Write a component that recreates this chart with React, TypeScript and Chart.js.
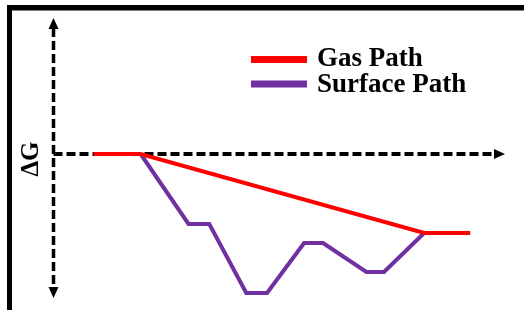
import React, { useEffect, useRef } from "react";
import { Chart, registerables } from "chart.js";

Chart.register(...registerables);

// Reaction coordinate (arbitrary units) and ΔG (arbitrary units, 0 = reference level)
const seriesLabels = ["Gas Path", "Surface Path"];
const seriesColors = ["#FF0000", "#7030A0"];
const gasX = [8.9, 19.3, 82.1, 92.3];
const gasY = [0, 0, -7.9, -7.9];
const surfaceX = [19.3, 29.9, 34.5, 42.7, 47.3, 55.5, 59.7, 69.3, 73.2, 82.1];
const surfaceY = [0, -7.0, -7.0, -13.9, -13.9, -8.9, -8.9, -11.8, -11.8, -7.9];
const yAxisLabel = "ΔG";

const FONT = "'Liberation Serif', 'Times New Roman', serif";

const decorPlugin = {
  id: "decor",
  beforeDatasetsDraw(chart: any) {
    const ctx = chart.ctx;
    const xs = chart.scales.x;
    const ys = chart.scales.y;
    const ax = xs.getPixelForValue(0);
    const ay = ys.getPixelForValue(0);
    const top = ys.getPixelForValue(ys.max);
    const bottom = ys.getPixelForValue(ys.min);
    const right = xs.getPixelForValue(xs.max);
    ctx.save();
    ctx.strokeStyle = "#000";
    ctx.fillStyle = "#000";
    ctx.lineWidth = 3.5;
    ctx.setLineDash([9, 4]);
    // vertical axis
    ctx.beginPath();
    ctx.moveTo(ax, top + 10);
    ctx.lineTo(ax, bottom - 10);
    ctx.stroke();
    // horizontal axis
    ctx.lineWidth = 4;
    ctx.beginPath();
    ctx.moveTo(ax, ay);
    ctx.lineTo(right - 10, ay);
    ctx.stroke();
    ctx.setLineDash([]);
    // arrowheads
    ctx.beginPath();
    ctx.moveTo(ax, top);
    ctx.lineTo(ax - 5, top + 11);
    ctx.lineTo(ax + 5, top + 11);
    ctx.closePath();
    ctx.fill();
    ctx.beginPath();
    ctx.moveTo(ax, bottom);
    ctx.lineTo(ax - 5, bottom - 11);
    ctx.lineTo(ax + 5, bottom - 11);
    ctx.closePath();
    ctx.fill();
    ctx.beginPath();
    ctx.moveTo(right, ay);
    ctx.lineTo(right - 11, ay - 5);
    ctx.lineTo(right - 11, ay + 5);
    ctx.closePath();
    ctx.fill();
    // axis label
    ctx.save();
    ctx.translate(31.5, ay + 5);
    ctx.rotate(-Math.PI / 2);
    ctx.font = `bold 25px ${FONT}`;
    ctx.textAlign = "center";
    ctx.textBaseline = "middle";
    ctx.fillText(yAxisLabel, 0, 0);
    ctx.restore();
    ctx.restore();
  },
  afterDraw(chart: any) {
    const ctx = chart.ctx;
    ctx.save();
    // frame (top and left edges)
    ctx.fillStyle = "#000";
    ctx.fillRect(7, 5, chart.width - 7, 5.5);
    ctx.fillRect(7, 5, 5, chart.height - 5);
    // legend
    const rows = [59.5, 84];
    const baselines = [66, 92];
    chart.data.datasets.forEach((ds: any, i: number) => {
      ctx.strokeStyle = ds.borderColor;
      ctx.lineWidth = 7;
      ctx.beginPath();
      ctx.moveTo(251, rows[i]);
      ctx.lineTo(307, rows[i]);
      ctx.stroke();
      ctx.fillStyle = "#000";
      ctx.font = `bold 27px ${FONT}`;
      ctx.textAlign = "left";
      ctx.textBaseline = "alphabetic";
      ctx.fillText(ds.label, 317, baselines[i]);
    });
    ctx.restore();
  },
};

export default function App() {
  const ref = useRef<HTMLCanvasElement | null>(null);
  useEffect(() => {
    if (!ref.current) return;
    const chart = new Chart(ref.current, {
      type: "line",
      data: {
        datasets: [
          {
            label: seriesLabels[0],
            data: gasX.map((x, i) => ({ x, y: gasY[i] })),
            borderColor: seriesColors[0],
            borderWidth: 4,
            pointRadius: 0,
            tension: 0,
            fill: false,
          },
          {
            label: seriesLabels[1],
            data: surfaceX.map((x, i) => ({ x, y: surfaceY[i] })),
            borderColor: seriesColors[1],
            borderWidth: 4,
            pointRadius: 0,
            tension: 0,
            fill: false,
          },
        ],
      },
      options: {
        animation: false,
        responsive: false,
        devicePixelRatio: 1,
        layout: { padding: { left: 53.5, right: 19, top: 18, bottom: 12 } },
        scales: {
          x: { type: "linear", min: 0, max: 100, display: false },
          y: { type: "linear", min: -14.4, max: 13.6, display: false },
        },
        plugins: {
          legend: { display: false },
          tooltip: { enabled: false },
        },
      },
      plugins: [decorPlugin],
    });
    return () => chart.destroy();
  }, []);
  return (
    <div style={{ position: "fixed", left: 0, top: 0, width: 524, height: 310, background: "#fff" }}>
      <canvas ref={ref} width={524} height={310} style={{ display: "block" }} />
    </div>
  );
}
